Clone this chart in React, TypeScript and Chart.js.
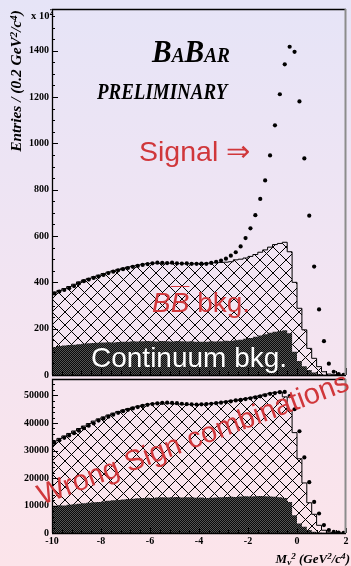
import React, { useEffect, useRef } from 'react';
import { Chart, registerables } from 'chart.js';

Chart.register(...registerables);

// ---------- data ----------
const X_MIN = -10;
const X_MAX = 2;
const BIN_WIDTH = 0.2;
const X_TICKS = [-10, -8, -6, -4, -2, 0, 2];
const X_MINOR = 0.4;

const TOP_Y_MAX = 1580;
const TOP_Y_TICKS = [0, 200, 400, 600, 800, 1000, 1200, 1400];
const TOP_Y_MINOR = 50;

// on-peak data (units of 100 entries per 0.2 GeV^2/c^4)
const TOP_DATA = [
  352, 360, 367, 375, 384, 395, 405, 412, 419, 425,
  432, 440, 446, 452, 457, 462, 467, 471, 475, 479,
  482, 485, 484, 483, 485, 482, 481, 482, 480, 480,
  481, 480, 484, 489, 494, 502, 515, 530, 555, 591,
  633, 690, 760, 840, 948, 1078, 1212, 1341, 1417, 1395,
  1181, 935, 688, 468, 283, 146, 49, 14, 4, 1,
];
// B Bbar background (stacked on continuum)
const TOP_BB_TOTAL = [
  349, 357, 365, 373, 382, 392, 402, 410, 417, 424,
  431, 438, 444, 450, 456, 461, 466, 470, 474, 478,
  481, 483, 483, 483, 483, 482, 481, 481, 480, 480,
  480, 481, 482, 484, 485, 486, 487, 489, 497, 500,
  505, 512, 520, 530, 540, 552, 563, 568, 573, 532,
  400, 288, 195, 115, 72, 36, 14, 4, 1, 0,
];
// continuum background
const TOP_CONTINUUM = [
  118, 121, 125, 127, 130, 131, 133, 135, 137, 138,
  139, 140, 141, 140, 142, 143, 144, 146, 145, 146,
  147, 146, 145, 147, 146, 145, 147, 146, 145, 146,
  144, 143, 144, 146, 145, 146, 148, 147, 150, 152,
  156, 160, 165, 170, 176, 182, 187, 190, 193, 180,
  100, 60, 38, 22, 11, 4, 1, 0, 0, 0,
];

const BOT_Y_MAX = 56000;
const BOT_Y_TICKS = [0, 10000, 20000, 30000, 40000, 50000];
const BOT_Y_MINOR = 2000;

// wrong-sign sample
const BOT_DATA = [
  32800, 33700, 34600, 35500, 36300, 37200, 38100, 39000, 39900, 40900,
  41600, 42300, 43000, 43700, 44300, 44800, 45300, 45800, 46200, 46600,
  46900, 47100, 47300, 47400, 47300, 47200, 47000, 46900, 46800, 46700,
  46800, 46900, 47000, 47200, 47400, 47600, 47900, 48200, 48400, 48700,
  49000, 49300, 49700, 50100, 50600, 50900, 51200, 51300, 49800, 45000,
  37000, 27500, 18500, 11300, 7100, 2900, 1100, 400, 150, 50,
];
const BOT_WS_TOTAL = [
  32500, 33500, 34400, 35300, 36200, 37100, 38000, 38900, 39800, 40700,
  41500, 42200, 42900, 43600, 44200, 44700, 45200, 45700, 46100, 46500,
  46800, 47000, 47200, 47300, 47200, 47100, 46900, 46800, 46700, 46700,
  46700, 46800, 46900, 47100, 47300, 47500, 47800, 48100, 48300, 48600,
  48900, 49200, 49600, 50000, 50500, 50800, 51100, 51300, 49500, 44500,
  36500, 27000, 18200, 11000, 6800, 2800, 1000, 300, 100, 0,
];
const BOT_CONTINUUM = [
  9800, 9900, 10100, 10000, 10300, 10500, 10600, 10800, 11000, 11200,
  11300, 11500, 11700, 11900, 12000, 12200, 12400, 12500, 12600, 12700,
  12800, 12700, 12900, 13000, 12900, 13000, 13100, 12900, 13000, 13000,
  12800, 12900, 12700, 12800, 12900, 13000, 13100, 13200, 13100, 13300,
  13400, 13300, 13400, 13500, 13400, 13300, 13200, 13000, 12700, 11300,
  6500, 3500, 2300, 1100, 500, 200, 50, 0, 0, 0,
];

// ---------- helpers ----------
const SANS = "'Liberation Sans', Arial, sans-serif";
const SERIF = "'Liberation Serif', 'Times New Roman', serif";
const RED = '#d0373b';

const histPoints = (vals: number[]) => [
  ...vals.map((v, i) => ({ x: X_MIN + i * BIN_WIDTH, y: v })),
  { x: X_MAX, y: vals[vals.length - 1] },
];
const dotPoints = (vals: number[]) => vals.map((v, i) => ({ x: X_MIN + (i + 0.5) * BIN_WIDTH, y: v }));

function makeHatch() {
  const c = document.createElement('canvas');
  c.width = 13; c.height = 13;
  const g = c.getContext('2d')!;
  g.strokeStyle = '#000';
  g.lineWidth = 1;
  g.beginPath();
  g.moveTo(-2, -2); g.lineTo(15, 15);
  g.moveTo(15, -2); g.lineTo(-2, 15);
  g.stroke();
  return g.createPattern(c, 'repeat')!;
}
function makeDark() {
  const c = document.createElement('canvas');
  c.width = 2; c.height = 2;
  const g = c.getContext('2d')!;
  g.fillStyle = '#0a0a0a';
  g.fillRect(0, 0, 2, 2);
  g.fillStyle = '#555';
  g.fillRect(0, 0, 1, 1);
  g.fillRect(1, 1, 1, 1);
  return g.createPattern(c, 'repeat')!;
}

const axisTicks = {
  id: 'axisTicks',
  afterDraw(chart: any, _a: any, opts: any) {
    const { ctx, chartArea: a } = chart;
    const xs = chart.scales.x;
    const ys = chart.scales.y;
    ctx.save();
    ctx.strokeStyle = '#000';
    ctx.lineWidth = 1;
    ctx.beginPath();
    for (let v = 0; v <= ys.max; v += opts.yMinor) {
      const py = Math.round(ys.getPixelForValue(v)) + 0.5;
      const len = opts.yTicks.includes(v) ? 6 : 3;
      ctx.moveTo(a.left, py);
      ctx.lineTo(a.left + len, py);
    }
    const n = Math.round((X_MAX - X_MIN) / X_MINOR);
    for (let i = 0; i <= n; i++) {
      const v = X_MIN + i * X_MINOR;
      const px = Math.round(xs.getPixelForValue(v)) + 0.5;
      const major = X_TICKS.some((t) => Math.abs(t - v) < 1e-6);
      const len = major ? opts.xMajorLen : opts.xMinorLen;
      ctx.moveTo(px, a.bottom);
      ctx.lineTo(px, a.bottom - len);
    }
    ctx.stroke();
    ctx.lineWidth = 1.3;
    ctx.beginPath();
    ctx.moveTo(a.left + 0.5, a.bottom);
    ctx.lineTo(a.left + 0.5, a.top + 0.5);
    ctx.lineTo(a.right, a.top + 0.5);
    ctx.moveTo(a.left, a.bottom + 0.5);
    ctx.lineTo(a.right, a.bottom + 0.5);
    ctx.stroke();
    ctx.strokeStyle = '#8c8c8c';
    ctx.lineWidth = 2;
    ctx.beginPath();
    ctx.moveTo(a.right - 0.5, a.top);
    ctx.lineTo(a.right - 0.5, a.bottom);
    ctx.stroke();
    ctx.restore();
  },
};

function buildConfig(p: any): any {
  const tickFont = { family: SERIF, size: 10, weight: 'bold' };
  return {
    type: 'line',
    data: {
      datasets: [
        {
          data: dotPoints(p.data), showLine: false, pointRadius: 2.1,
          pointBackgroundColor: '#000', pointBorderWidth: 0, order: 0,
        },
        {
          data: histPoints(p.cont), stepped: 'after', pointRadius: 0, borderWidth: 0,
          borderColor: 'rgba(0,0,0,0)', backgroundColor: p.dark, fill: 'origin', order: 1,
        },
        {
          data: histPoints(p.total), stepped: 'after', pointRadius: 0, borderWidth: 1,
          borderColor: '#000', backgroundColor: p.hatch, fill: 'origin', order: 2,
        },
      ],
    },
    options: {
      responsive: false,
      animation: false,
      devicePixelRatio: 1,
      events: [],
      layout: { padding: { top: 7, right: 5, left: 0, bottom: 0 } },
      plugins: {
        legend: { display: false },
        tooltip: { enabled: false },
        axisTicks: { yMinor: p.yMinor, yTicks: p.yTicks, xMajorLen: p.xMajorLen, xMinorLen: p.xMinorLen },
      },
      scales: {
        x: {
          type: 'linear', min: X_MIN, max: X_MAX,
          grid: { display: false, drawTicks: false }, border: { display: false },
          ticks: {
            display: p.showX, padding: 2, font: tickFont, color: '#000',
            autoSkip: false, maxRotation: 0, callback: (v: number) => String(v),
          },
          afterBuildTicks: (s: any) => { s.ticks = X_TICKS.map((v) => ({ value: v })); },
          afterFit: (s: any) => { s.height = p.xHeight; },
        },
        y: {
          type: 'linear', min: 0, max: p.yMax,
          grid: { display: false, drawTicks: false }, border: { display: false },
          ticks: {
            padding: 3, font: tickFont, color: '#000',
            autoSkip: false, callback: (v: number) => String(v),
          },
          afterBuildTicks: (s: any) => { s.ticks = p.yTicks.map((v: number) => ({ value: v })); },
          afterFit: (s: any) => { s.width = 52; },
        },
      },
    },
    plugins: [axisTicks],
  };
}

function Txt(props: any) {
  const { x, y, size, font = SANS, asc = 0.8465, color = '#000', weight = 'normal', italic = false, transform = '', children, extra = {} } = props;
  const a = size * asc;
  return (
    <div
      style={{
        position: 'absolute', left: x, top: y - a, fontFamily: font, fontSize: size,
        lineHeight: `${size}px`, color, fontWeight: weight, fontStyle: italic ? 'italic' : 'normal',
        whiteSpace: 'nowrap', transformOrigin: `0px ${a}px`, transform, ...extra,
      }}
    >
      {children}
    </div>
  );
}

const supStyle: any = { fontSize: '0.7em', position: 'relative', top: '-0.45em' };
const subStyle: any = { fontSize: '0.7em', position: 'relative', top: '0.25em' };

export default function App() {
  const topRef = useRef<HTMLCanvasElement>(null);
  const botRef = useRef<HTMLCanvasElement>(null);

  useEffect(() => {
    const hatch = makeHatch();
    const dark = makeDark();
    const c1 = new Chart(topRef.current!, buildConfig({
      data: TOP_DATA, total: TOP_BB_TOTAL, cont: TOP_CONTINUUM, yMax: TOP_Y_MAX,
      yTicks: TOP_Y_TICKS, yMinor: TOP_Y_MINOR, showX: false, xHeight: 9,
      xMajorLen: 7, xMinorLen: 4, hatch, dark,
    }));
    const c2 = new Chart(botRef.current!, buildConfig({
      data: BOT_DATA, total: BOT_WS_TOTAL, cont: BOT_CONTINUUM, yMax: BOT_Y_MAX,
      yTicks: BOT_Y_TICKS, yMinor: BOT_Y_MINOR, showX: true, xHeight: 33,
      xMajorLen: 5, xMinorLen: 3, hatch, dark,
    }));
    return () => { c1.destroy(); c2.destroy(); };
  }, []);

  return (
    <div
      style={{
        position: 'fixed', left: 0, top: 0, width: 351, height: 566, overflow: 'hidden',
        background: 'linear-gradient(180deg, #e6e4f7 0%, #f2e4f2 50%, #fce4ea 100%)',
      }}
    >
      <canvas ref={topRef} width={351} height={384} style={{ position: 'absolute', left: 0, top: 0 }} />
      <canvas ref={botRef} width={351} height={196} style={{ position: 'absolute', left: 0, top: 370 }} />

      <Txt x={152} y={62} size={32} font={SERIF} asc={0.8375} weight="bold" italic transform="scaleX(0.92)">
        B<span style={{ fontSize: 21 }}>A</span>B<span style={{ fontSize: 21 }}>AR</span>
      </Txt>
      <Txt x={97} y={99.5} size={24} font={SERIF} asc={0.8375} weight="bold" italic transform="scaleX(0.79)">
        PRELIMINARY
      </Txt>
      <Txt x={139} y={161} size={28.5} color={RED}>Signal ⇒</Txt>
      <Txt x={152} y={313} size={28} color={RED}>
        <i>B</i><i style={{ textDecoration: 'overline', textDecorationThickness: '1px' }}>B</i> bkg.
      </Txt>
      <Txt x={91} y={367.5} size={28} color="#fff">Continuum bkg.</Txt>
      <Txt x={42} y={506} size={29} color={RED} transform="rotate(-20.5deg)">Wrong Sign combinations</Txt>

      <Txt x={31} y={19.5} size={10.5} font={SERIF} asc={0.8375} weight="bold">
        x 10<span style={{ fontSize: 8, position: 'relative', top: -4 }}>2</span>
      </Txt>
      <div
        style={{
          position: 'absolute', left: 17, top: 81, transform: 'translate(-50%, -50%) rotate(-90deg) scaleX(1.1)',
          fontFamily: SERIF, fontSize: 14, lineHeight: '14px', fontWeight: 'bold', fontStyle: 'italic',
          whiteSpace: 'nowrap', color: '#000',
        }}
      >
        Entries / (0.2 GeV<span style={supStyle}>2</span>/c<span style={supStyle}>4</span>)
      </div>
      <div
        style={{
          position: 'absolute', right: 1, top: 563 - 13 * 0.8375, fontFamily: SERIF, fontSize: 13,
          lineHeight: '13px', fontWeight: 'bold', fontStyle: 'italic', whiteSpace: 'nowrap', color: '#000',
        }}
      >
        M<span style={subStyle}>ν</span><span style={supStyle}>2</span> (GeV<span style={supStyle}>2</span>/c<span style={supStyle}>4</span>)
      </div>
    </div>
  );
}
